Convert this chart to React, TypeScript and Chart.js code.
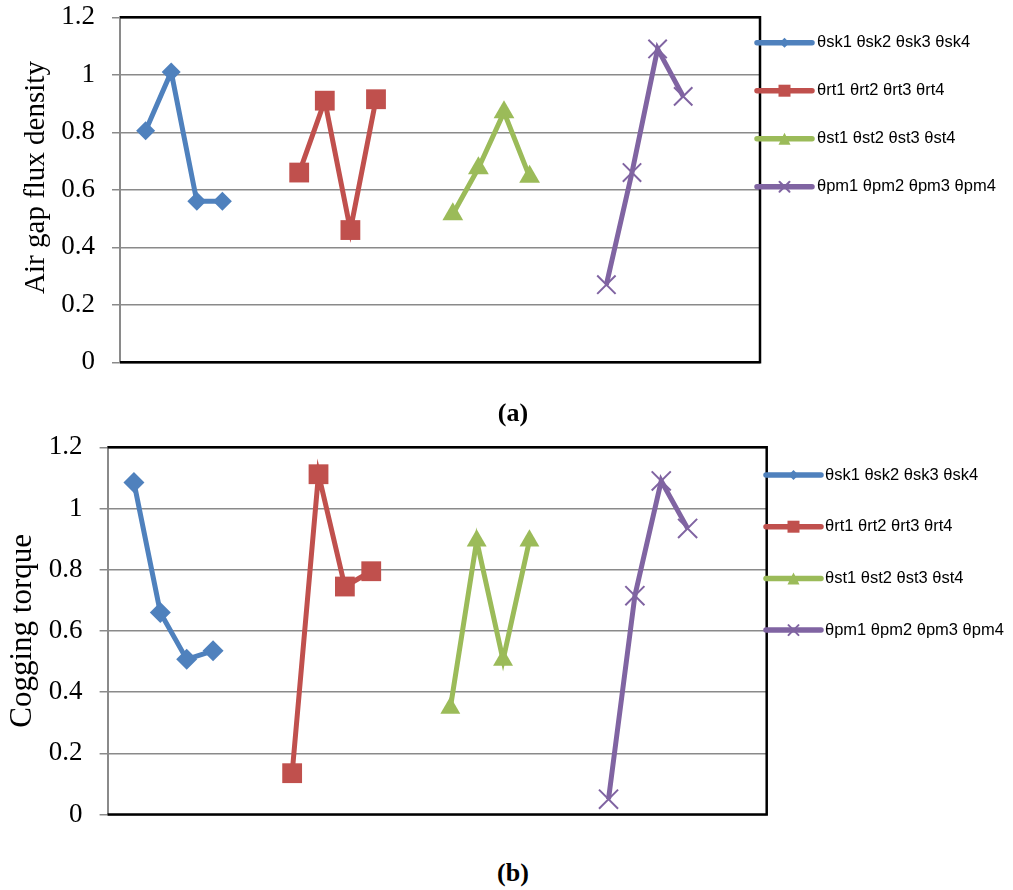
import React, { useEffect, useRef } from "react";
import { Chart, registerables } from "chart.js";

Chart.register(...registerables);

// ---------- data ----------
const seriesLabels = [
  "θsk1 θsk2 θsk3 θsk4",
  "θrt1 θrt2 θrt3 θrt4",
  "θst1 θst2 θst3 θst4",
  "θpm1 θpm2 θpm3 θpm4",
];
// category index where each group of four points starts
const groupStart = [0, 6, 12, 18];
const yTickLabels = ["0", "0.2", "0.4", "0.6", "0.8", "1", "1.2"];

// (a) Air gap flux density
const fluxSk = [0.805, 1.01, 0.56, 0.56];
const fluxRt = [0.66, 0.91, 0.46, 0.915];
const fluxSt = [0.515, 0.675, 0.87, 0.645];
const fluxPm = [0.27, 0.66, 1.09, 0.925];

// (b) Cogging torque
const torqueSk = [1.085, 0.66, 0.507, 0.535];
const torqueRt = [0.135, 1.112, 0.745, 0.795];
const torqueSt = [0.348, 0.895, 0.505, 0.895];
const torquePm = [0.05, 0.715, 1.09, 0.935];

// ---------- styles ----------
const seriesColors = ["#4F81BD", "#C0504D", "#9BBB59", "#8064A2"];
const pointStyles = ["rectRot", "rect", "triangle", "crossRot"];
const gridGray = "#8a8a8a";

type Panel = {
  values: number[][];
  yTitle: string;
  canvasHeight: number;
  axisWidth: number;
  padRight: number;
  padTop: number;
  padBottom: number;
  tickSize: number;
  titleSize: number;
  titleX: number;
  titleY: number;
  pointRadii: number[];
  legend: { x0: number; x1: number; textX: number; top: number; gap: number; font: number };
};

const panelA: Panel = {
  values: [fluxSk, fluxRt, fluxSt, fluxPm],
  yTitle: "Air gap flux density",
  canvasHeight: 400,
  axisWidth: 120,
  padRight: 253,
  padTop: 17.3,
  padBottom: 37.7,
  tickSize: 27,
  titleSize: 29,
  titleX: 36.5,
  titleY: 177.5,
  pointRadii: [9.5, 14, 12, 13],
  legend: { x0: 757, x1: 812, textX: 817, top: 42.7, gap: 48, font: 16.5 },
};

const panelB: Panel = {
  values: [torqueSk, torqueRt, torqueSt, torquePm],
  yTitle: "Cogging torque",
  canvasHeight: 400,
  axisWidth: 107.6,
  padRight: 246.3,
  padTop: 17.3,
  padBottom: 12.3,
  tickSize: 27,
  titleSize: 31,
  titleX: 23,
  titleY: 200.8,
  pointRadii: [10.5, 14, 11.5, 13.5],
  legend: { x0: 766, x1: 821, textX: 825, top: 45, gap: 51.7, font: 16.5 },
};

function drawLegendMarker(ctx: CanvasRenderingContext2D, style: string, x: number, y: number, color: string) {
  ctx.save();
  ctx.fillStyle = color;
  ctx.strokeStyle = color;
  ctx.beginPath();
  if (style === "rectRot") {
    const h = 5;
    ctx.moveTo(x, y - h);
    ctx.lineTo(x + h, y);
    ctx.lineTo(x, y + h);
    ctx.lineTo(x - h, y);
    ctx.closePath();
    ctx.fill();
  } else if (style === "rect") {
    const h = 6;
    ctx.rect(x - h, y - h, 2 * h, 2 * h);
    ctx.fill();
  } else if (style === "triangle") {
    const h = 6;
    ctx.moveTo(x, y - h);
    ctx.lineTo(x + h, y + h);
    ctx.lineTo(x - h, y + h);
    ctx.closePath();
    ctx.fill();
  } else {
    const h = 5;
    ctx.lineWidth = 2;
    ctx.moveTo(x - h, y - h);
    ctx.lineTo(x + h, y + h);
    ctx.moveTo(x + h, y - h);
    ctx.lineTo(x - h, y + h);
    ctx.stroke();
  }
  ctx.restore();
}

function makeConfig(p: Panel): any {
  const datasets = p.values.map((vals, s) => ({
    label: seriesLabels[s],
    data: vals.map((v, i) => ({ x: groupStart[s] + i, y: v })),
    borderColor: seriesColors[s],
    backgroundColor: seriesColors[s],
    borderWidth: 5,
    pointStyle: pointStyles[s],
    pointRadius: p.pointRadii[s],
    pointBackgroundColor: seriesColors[s],
    pointBorderColor: seriesColors[s],
    pointBorderWidth: s === 3 ? 2 : 0,
    tension: 0,
    clip: false,
  }));

  const framePlugin = {
    id: "frame",
    beforeDatasetsDraw(chart: any) {
      const { ctx, chartArea: a } = chart;
      ctx.save();
      ctx.strokeStyle = "#000";
      ctx.lineWidth = 2.5;
      ctx.beginPath();
      ctx.moveTo(a.left, a.top);
      ctx.lineTo(a.right, a.top);
      ctx.lineTo(a.right, a.bottom);
      ctx.lineTo(a.left, a.bottom);
      ctx.stroke();
      ctx.restore();
    },
  };

  const legendPlugin = {
    id: "excelLegend",
    afterDraw(chart: any) {
      const { ctx } = chart;
      const L = p.legend;
      ctx.save();
      chart.data.datasets.forEach((ds: any, s: number) => {
        const y = L.top + s * L.gap;
        ctx.strokeStyle = ds.borderColor;
        ctx.lineWidth = 5.5;
        ctx.lineCap = "round";
        ctx.beginPath();
        ctx.moveTo(L.x0, y);
        ctx.lineTo(L.x1, y);
        ctx.stroke();
        drawLegendMarker(ctx, pointStyles[s], (L.x0 + L.x1) / 2, y, ds.borderColor);
        ctx.fillStyle = "#000";
        ctx.font = `${L.font}px "Liberation Sans", Arial, sans-serif`;
        ctx.textBaseline = "middle";
        ctx.textAlign = "left";
        ctx.fillText(ds.label, L.textX, y);
      });
      ctx.restore();
    },
  };

  const titlePlugin = {
    id: "yTitle",
    afterDraw(chart: any) {
      const { ctx } = chart;
      ctx.save();
      ctx.translate(p.titleX, p.titleY);
      ctx.rotate(-Math.PI / 2);
      ctx.fillStyle = "#000";
      ctx.font = `${p.titleSize}px "Liberation Serif", "Times New Roman", serif`;
      ctx.textAlign = "center";
      ctx.textBaseline = "middle";
      ctx.fillText(p.yTitle, 0, 0);
      ctx.restore();
    },
  };

  return {
    type: "line",
    data: { datasets },
    options: {
      responsive: false,
      animation: false,
      layout: { padding: { left: 0, right: p.padRight, top: p.padTop, bottom: p.padBottom } },
      plugins: { legend: { display: false }, tooltip: { enabled: false } },
      scales: {
        x: { type: "linear", min: -1, max: 24, display: false },
        y: {
          min: 0,
          max: 1.2,
          ticks: {
            stepSize: 0.2,
            callback: (_v: any, i: number) => yTickLabels[i],
            font: { family: '"Liberation Serif", "Times New Roman", serif', size: p.tickSize, lineHeight: 1 },
            color: "#000",
            padding: 17,
          },
          grid: { color: gridGray, lineWidth: 1.5, tickLength: 8, tickColor: gridGray, drawTicks: true },
          border: { color: gridGray, width: 2 },
          afterFit: (sc: any) => {
            sc.width = p.axisWidth;
            sc.paddingTop = 0;
            sc.paddingBottom = 0;
          },
        },
      },
    },
    plugins: [framePlugin, titlePlugin, legendPlugin],
  };
}

function ChartPanel({ panel, top }: { panel: Panel; top: number }) {
  const ref = useRef<HTMLCanvasElement | null>(null);
  useEffect(() => {
    if (!ref.current) return;
    const chart = new Chart(ref.current, makeConfig(panel));
    return () => chart.destroy();
  }, [panel]);
  return (
    <canvas
      ref={ref}
      width={1013}
      height={panel.canvasHeight}
      style={{ position: "absolute", left: 0, top, width: 1013, height: panel.canvasHeight }}
    />
  );
}

const captionStyle: React.CSSProperties = {
  position: "absolute",
  left: 0,
  width: 1026,
  textAlign: "center",
  fontFamily: '"Liberation Serif", "Times New Roman", serif',
  fontWeight: "bold",
  fontSize: 26,
  lineHeight: "26px",
  color: "#000",
};

export default function App() {
  return (
    <div style={{ position: "absolute", left: 0, top: 0, width: 1013, height: 890, background: "#fff" }}>
      <ChartPanel panel={panelA} top={0} />
      <div style={{ ...captionStyle, top: 400 }}>(a)</div>
      <ChartPanel panel={panelB} top={430} />
      <div style={{ ...captionStyle, top: 860 }}>(b)</div>
    </div>
  );
}
